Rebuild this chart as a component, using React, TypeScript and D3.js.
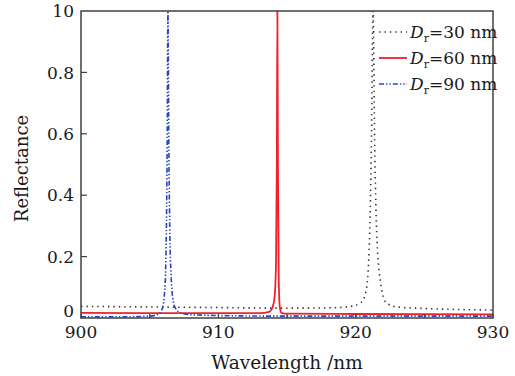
import React from "react";
import * as d3 from "d3";

// Reflectance spectra: [wavelength nm, reflectance]
const series30: [number, number][] = [
  [900, 0.038], [905, 0.036], [910, 0.034], [915, 0.032], [918, 0.033],
  [919.5, 0.037], [920.2, 0.045], [920.55, 0.06], [920.8, 0.1], [920.95, 0.19],
  [921.05, 0.33], [921.15, 0.58], [921.27, 1.0], [921.38, 0.58], [921.5, 0.32],
  [921.62, 0.2], [921.8, 0.12], [922.0, 0.07], [922.3, 0.047], [923, 0.036],
  [925, 0.031], [930, 0.026],
];
const series60: [number, number][] = [
  [900, 0.017], [905, 0.016], [910, 0.016], [913, 0.016], [913.7, 0.02],
  [913.95, 0.035], [914.1, 0.07], [914.2, 0.18], [914.26, 0.5], [914.3, 1.0],
  [914.34, 0.5], [914.4, 0.12], [914.48, 0.035], [914.6, 0.017], [915, 0.014],
  [920, 0.013], [930, 0.012],
];
const series90: [number, number][] = [
  [900, 0.004], [903, 0.004], [905, 0.006], [905.6, 0.012], [905.9, 0.028],
  [906.05, 0.065], [906.15, 0.14], [906.22, 0.3], [906.28, 0.6], [906.33, 1.0],
  [906.39, 0.6], [906.46, 0.3], [906.56, 0.14], [906.7, 0.06], [906.9, 0.03],
  [907.3, 0.016], [908, 0.011], [910, 0.008], [915, 0.006], [920, 0.006],
  [930, 0.006],
];

const xTicks = [900, 905, 910, 915, 920, 925, 930];
const xLabels = [900, 910, 920, 930];
const yTicks = [0, 0.2, 0.4, 0.6, 0.8, 1.0];
const yLabels = ["0", "0.2", "0.4", "0.6", "0.8", "10"];
const legendNames = ["30", "60", "90"];

const W = 515;
const H = 376;
const margin = { top: 11, right: 22, bottom: 58, left: 81 };
const FONT = "'DejaVu Serif', serif";

export default function App() {
  const x = d3.scaleLinear().domain([900, 930]).range([margin.left, W - margin.right]);
  const y = d3.scaleLinear().domain([0, 1]).range([H - margin.bottom, margin.top]);
  const line = d3
    .line<[number, number]>()
    .x((d) => x(d[0]))
    .y((d) => y(d[1]))
    .curve(d3.curveMonotoneX);

  const styles = [
    { data: series30, stroke: "#333", width: 1.6, dash: "1.4 4" },
    { data: series60, stroke: "#f0202c", width: 1.8, dash: undefined },
    { data: series90, stroke: "#2747b8", width: 1.6, dash: "5 2 1.4 2 1.4 2" },
  ];

  const x0 = margin.left;
  const x1 = W - margin.right;
  const y0 = H - margin.bottom;
  const y1 = margin.top;
  const axisColor = "#404040";

  return (
    <div style={{ position: "absolute", left: 0, top: 0 }}>
      <svg width={W} height={H} style={{ display: "block", background: "#fff" }}>
        <defs>
          <clipPath id="plotClip">
            <rect x={x0} y={y1} width={x1 - x0} height={y0 - y1} />
          </clipPath>
        </defs>

        <g clipPath="url(#plotClip)">
          {styles.map((s, i) => (
            <path
              key={i}
              d={line(s.data) || ""}
              fill="none"
              stroke={s.stroke}
              strokeWidth={s.width}
              strokeDasharray={s.dash}
            />
          ))}
        </g>

        {/* frame */}
        <rect x={x0} y={y1} width={x1 - x0} height={y0 - y1} fill="none" stroke={axisColor} strokeWidth={1.5} />

        {/* x ticks (inward) */}
        {xTicks.map((t) => (
          <line key={t} x1={x(t)} x2={x(t)} y1={y0} y2={y0 - 4} stroke={axisColor} strokeWidth={1.2} />
        ))}
        {xLabels.map((t) => (
          <text key={t} x={x(t)} y={y0 + 19.5} textAnchor="middle" fontFamily={FONT} fontSize={17} fill="#1a1a1a">
            {t}
          </text>
        ))}

        {/* y ticks (inward) */}
        {yTicks.map((t, i) => (
          <g key={t}>
            {i > 0 && i < yTicks.length - 1 && (
              <line x1={x0} x2={x0 + 6} y1={y(t)} y2={y(t)} stroke={axisColor} strokeWidth={1.2} />
            )}
            <text
              x={x0 - 7}
              y={i === 0 ? y(t) - 7 : y(t)}
              dy="0.36em"
              textAnchor="end"
              fontFamily={FONT}
              fontSize={17}
              fill="#1a1a1a"
            >
              {yLabels[i]}
            </text>
          </g>
        ))}

        {/* axis titles */}
        <text x={(x0 + x1) / 2} y={369} textAnchor="middle" fontFamily={FONT} fontSize={18.5} fill="#1a1a1a">
          Wavelength /nm
        </text>
        <text
          transform={`translate(28,${(y0 + y1) / 2 + 4}) rotate(-90)`}
          textAnchor="middle"
          fontFamily={FONT}
          fontSize={18}
          fill="#1a1a1a"
        >
          Reflectance
        </text>

        {/* legend */}
        {styles.map((s, i) => {
          const ly = 32 + i * 26;
          return (
            <g key={i}>
              <line x1={379} x2={407} y1={ly} y2={ly} stroke={s.stroke} strokeWidth={s.width} strokeDasharray={s.dash} />
              <text x={410} y={ly} dy="0.36em" fontFamily={FONT} fontSize={17} fill="#1a1a1a">
                <tspan fontStyle="italic">D</tspan>
                <tspan fontSize={11} dy="4">r</tspan>
                <tspan dy="-4">={legendNames[i]} nm</tspan>
              </text>
            </g>
          );
        })}
      </svg>
    </div>
  );
}
